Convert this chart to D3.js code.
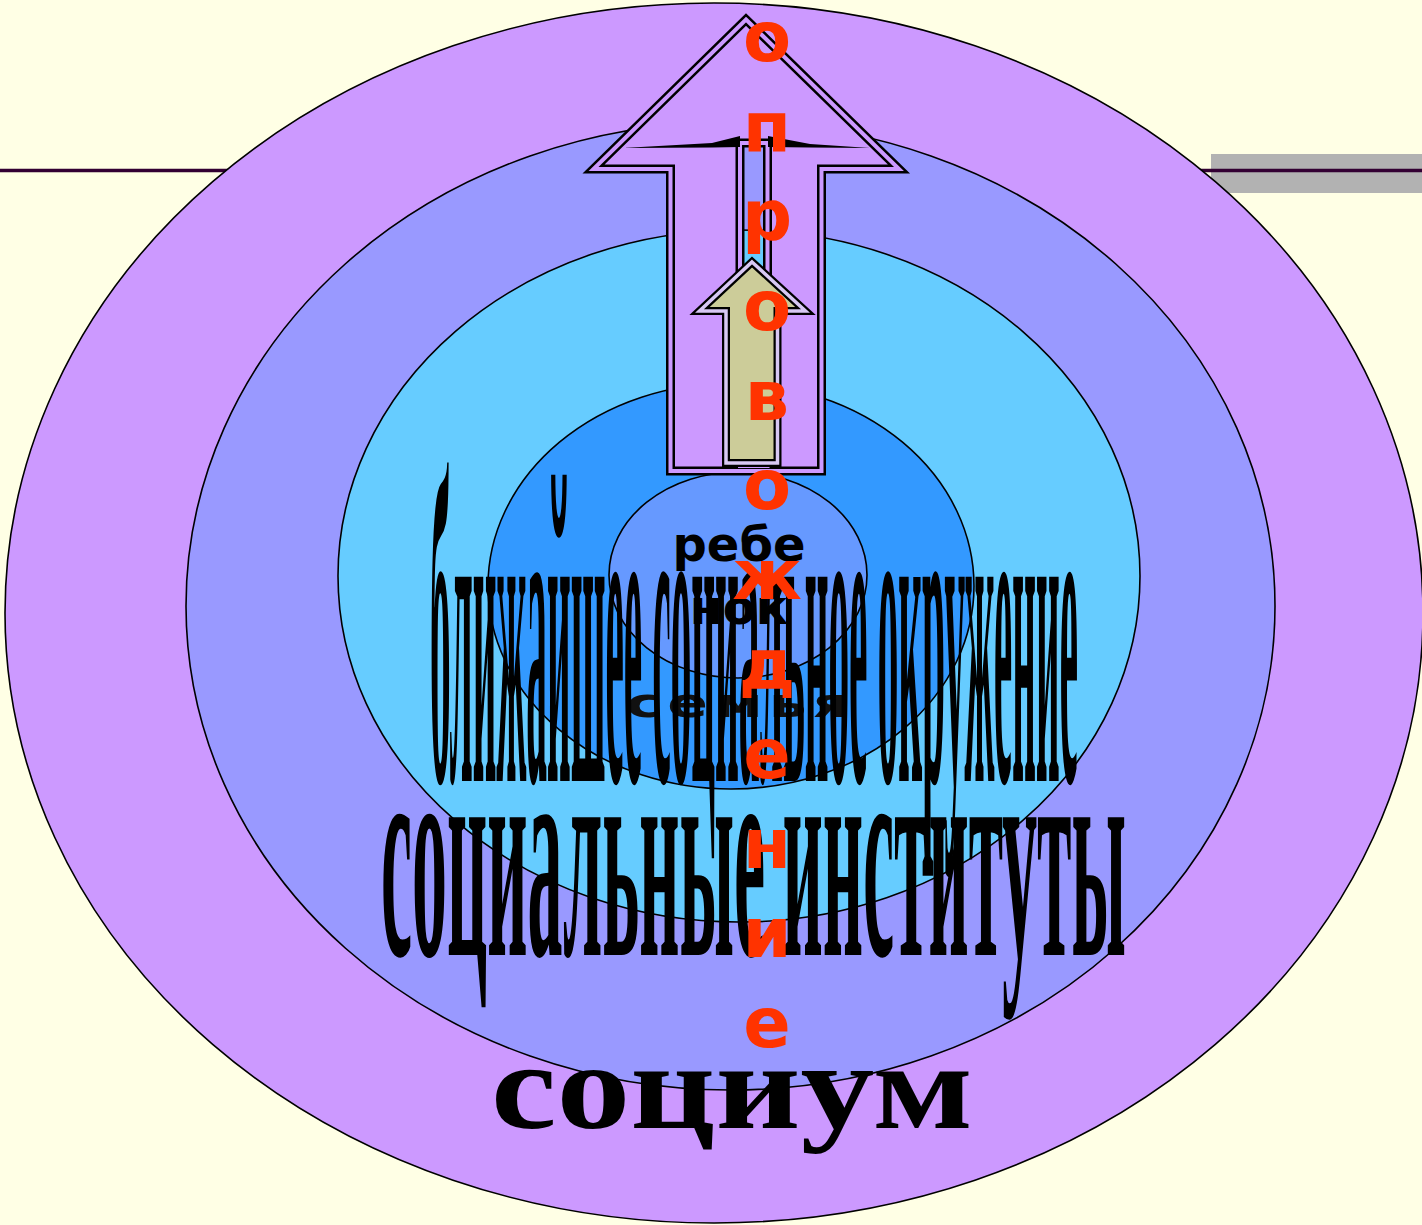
<!DOCTYPE html>
<html><head><meta charset="utf-8">
<script src="https://cdn.jsdelivr.net/npm/d3@7"></script>
<style>html,body{margin:0;padding:0;background:#FFFFE5;overflow:hidden}</style>
</head><body>
<script>
// ---- data ----
const rings = ["социум", "социальные институты", "ближайшее социальное окружение", "семья", "ребенок"];
const childParts = ["ребе", "нок"];
const arrowWord = "сопровождение";

// ---- layout / style ----
const W = 1422, H = 1225;
const ringFill = ["#CC99FF", "#9999FF", "#66CCFF", "#3399FF", "#6699FF"];
const ringGeom = [
  {cx: 714, cy: 613, rx: 709, ry: 610},
  {cx: 730.5, cy: 606, rx: 544.5, ry: 484},
  {cx: 739, cy: 576, rx: 401, ry: 346},
  {cx: 731, cy: 586, rx: 243, ry: 203},
  {cx: 738, cy: 575, rx: 129, ry: 103}
];

const svg = d3.select("body").append("svg")
  .attr("width", W).attr("height", H).attr("viewBox", `0 0 ${W} ${H}`);

svg.append("rect").attr("width", W).attr("height", H).attr("fill", "#FFFFE5");
svg.append("rect").attr("x", 1211).attr("y", 154).attr("width", 211).attr("height", 39).attr("fill", "#B2B2B2");
svg.append("line").attr("x1", 0).attr("x2", W).attr("y1", 170.5).attr("y2", 170.5)
  .attr("stroke", "#330033").attr("stroke-width", 3.5);

// rings
svg.append("g").selectAll("ellipse").data(rings).join("ellipse")
  .attr("cx", (d, i) => ringGeom[i].cx).attr("cy", (d, i) => ringGeom[i].cy)
  .attr("rx", (d, i) => ringGeom[i].rx).attr("ry", (d, i) => ringGeom[i].ry)
  .attr("fill", (d, i) => ringFill[i]).attr("stroke", "#000").attr("stroke-width", 1.6);

// arrows (double outline)
function arrowPath(tipX, tipY, baseY, headL, headR, shaftL, shaftR, bottom, hole) {
  const p = d3.path();
  p.moveTo(tipX, tipY); p.lineTo(headR, baseY); p.lineTo(shaftR, baseY);
  p.lineTo(shaftR, bottom); p.lineTo(shaftL, bottom); p.lineTo(shaftL, baseY);
  p.lineTo(headL, baseY); p.closePath();
  if (hole) {
    p.moveTo(hole[0], hole[1]); p.lineTo(hole[2], hole[1]);
    p.lineTo(hole[2], hole[3]); p.lineTo(hole[0], hole[3]); p.closePath();
  }
  return p.toString();
}
function drawArrow(d, fill, gap, outerW, gapW) {
  const g = svg.append("g");
  g.append("path").attr("d", d).attr("fill", fill).attr("fill-rule", "evenodd")
    .attr("stroke", "#000").attr("stroke-width", outerW).attr("stroke-linejoin", "miter");
  g.append("path").attr("d", d).attr("fill", "none")
    .attr("stroke", gap).attr("stroke-width", gapW).attr("stroke-linejoin", "miter");
}
drawArrow(arrowPath(746, 19.5, 169, 593.5, 899, 670.5, 821.5, 471, [740, 143, 767.5, 466]),
  "#CC99FF", "#CC99FF", 9, 4);
// wedge detail at top of channel
svg.append("path").attr("d", "M623,148 L712,143 L740,136 L740,147 L712,147.5 Z").attr("fill", "#000");
svg.append("path").attr("d", "M870,148 L810,144 L768,136 L768,147 L810,147.5 Z").attr("fill", "#000");
drawArrow(arrowPath(752, 262, 311, 699.5, 805.5, 726, 777.5, 463, null),
  "#CCCC99", "#D8C8F4", 8, 3.5);

// center labels
svg.append("g").selectAll("text").data(childParts).join("text")
  .attr("x", 739).attr("y", (d, i) => [561, 624][i])
  .attr("text-anchor", "middle")
  .attr("font-family", "DejaVu Sans").attr("font-weight", "bold").attr("font-size", 48)
  .attr("fill", "#000").text(d => d);

// семья (wide, squat lettering)
svg.append("g").attr("transform", "translate(626,717) scale(1.5,1)")
  .append("text").attr("x", 0).attr("y", 0)
  .attr("textLength", 150).attr("lengthAdjust", "spacing")
  .attr("font-family", "DejaVu Sans").attr("font-weight", "bold").attr("font-size", 40)
  .attr("fill", "#111").text(rings[3]);

// giant condensed texts
function giant(txt, x, baseline, len, sy) {
  svg.append("g").attr("transform", `translate(${x},${baseline}) scale(1,${sy})`)
    .append("text").attr("x", 0).attr("y", 0)
    .attr("textLength", len).attr("lengthAdjust", "spacingAndGlyphs")
    .attr("font-family", "Liberation Serif").attr("font-weight", "bold").attr("font-size", 100)
    .attr("fill", "#000").text(txt);
}
giant(rings[2], 430, 781, 648, 4.45);
giant(rings[1], 381, 955, 745, 3.0);

// социум
svg.append("text").attr("x", 491).attr("y", 1128)
  .attr("textLength", 482).attr("lengthAdjust", "spacingAndGlyphs")
  .attr("font-family", "Liberation Serif").attr("font-weight", "bold").attr("font-size", 122)
  .attr("fill", "#000").text(rings[0]);

// vertical red word
const letters = Array.from(arrowWord);
const yLetter = d3.scaleLinear().domain([1, letters.length - 1]).range([61, 1047]);
svg.append("g").selectAll("text").data(letters).join("text")
  .attr("x", 767).attr("y", (d, i) => yLetter(i))
  .attr("text-anchor", "middle")
  .attr("font-family", "DejaVu Sans").attr("font-weight", "bold").attr("font-size", 70)
  .attr("fill", "#FF3300").text(d => d);
</script>
</body></html>
